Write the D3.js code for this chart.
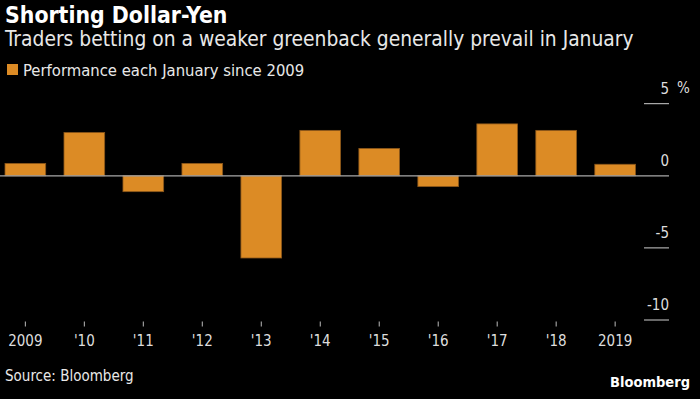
<!DOCTYPE html>
<html>
<head>
<meta charset="utf-8">
<script src="https://cdn.jsdelivr.net/npm/d3@7"></script>
<style>
  body { margin: 0; background: #000; }
  svg { display: block; }
  text { font-family: "DejaVu Sans Condensed", "DejaVu Sans", sans-serif; fill: #e8e8e8; }
  .title { font-weight: bold; font-size: 22.8px; fill: #fff; }
  .subtitle { font-size: 20.8px; }
  .legend { font-size: 16.5px; }
  .source { font-size: 15px; }
  .tick-label { font-size: 15px; fill: #ddd; }
  .logo { font-weight: bold; font-size: 14.5px; fill: #fff; }
</style>
</head>
<body>
<div id="chart"></div>
<script>
// January performance of USD/JPY, %
const years = ["2009", "'10", "'11", "'12", "'13", "'14", "'15", "'16", "'17", "'18", "2019"];
const values = [0.86, 3.0, -1.1, 0.86, -5.7, 3.15, 1.9, -0.75, 3.6, 3.15, 0.8];
const yTicks = [5, 0, -5, -10];

const width = 700, height = 399;

const svg = d3.select("#chart")
    .append("svg")
    .attr("width", width)
    .attr("height", height)
    .attr("viewBox", [0, 0, width, height]);

svg.append("rect")
    .attr("width", width)
    .attr("height", height)
    .attr("fill", "#000");

let x = d3.scaleBand()
    .domain(years)
    .range([5, 635.5])
    .paddingInner(0.31)
    .paddingOuter(0);

let y = d3.scaleLinear()
    .domain([-10, 5])
    .range([320, 103.7]);

// headings
svg.append("text").attr("class", "title").attr("x", 5).attr("y", 23).text("Shorting Dollar-Yen");
svg.append("text").attr("class", "subtitle").attr("x", 5).attr("y", 46)
    .text("Traders betting on a weaker greenback generally prevail in January");

svg.append("rect")
    .attr("x", 7).attr("y", 64).attr("width", 11).attr("height", 11)
    .attr("fill", "#dc8b25");
svg.append("text").attr("class", "legend").attr("x", 23).attr("y", 76)
    .text("Performance each January since 2009");

// y axis on the right, labels sit above their tick line
let yAxis = svg.append("g");
yAxis.selectAll("line.ytick")
    .data(yTicks.filter(d => d !== 0))
    .join("line")
    .attr("x1", 644).attr("x2", 669)
    .attr("y1", d => y(d)).attr("y2", d => y(d))
    .attr("stroke", "#cfcfcf")
    .attr("stroke-width", 1);

yAxis.selectAll("text")
    .data(yTicks)
    .join("text")
    .attr("class", "tick-label")
    .attr("text-anchor", "end")
    .attr("x", 669)
    .attr("y", d => y(d) - 10)
    .text(d => d);

svg.append("text").attr("class", "tick-label")
    .attr("x", 677).attr("y", y(5) - 11).text("%");

// bars
svg.append("g")
    .selectAll("rect")
    .data(values)
    .join("rect")
    .attr("x", (d, i) => x(years[i]))
    .attr("width", x.bandwidth())
    .attr("y", d => y(Math.max(0, d)))
    .attr("height", d => Math.abs(y(d) - y(0)))
    .attr("fill", "#dc8b25")
    .attr("stroke", "#8a561a")
    .attr("stroke-width", 0.8);

// zero line
svg.append("line")
    .attr("x1", 0).attr("x2", 669)
    .attr("y1", y(0)).attr("y2", y(0))
    .attr("stroke", "#a8a8a8")
    .attr("stroke-width", 1.2);

// x axis
let xAxis = svg.append("g")
    .attr("transform", "translate(0,321.5)")
    .call(d3.axisBottom(x).tickSize(5).tickSizeOuter(0).tickPadding(9));

xAxis.select(".domain").remove();
xAxis.selectAll(".tick line").attr("stroke", "#bbb");
xAxis.selectAll(".tick text")
    .attr("class", "tick-label")
    .attr("fill", null)
    .style("font-size", "15px")
    .style("font-family", null);

svg.append("text").attr("class", "source").attr("x", 5).attr("y", 381).text("Source: Bloomberg");
svg.append("text").attr("class", "logo").attr("text-anchor", "end")
    .attr("x", 690).attr("y", 387).text("Bloomberg");
</script>
</body>
</html>
